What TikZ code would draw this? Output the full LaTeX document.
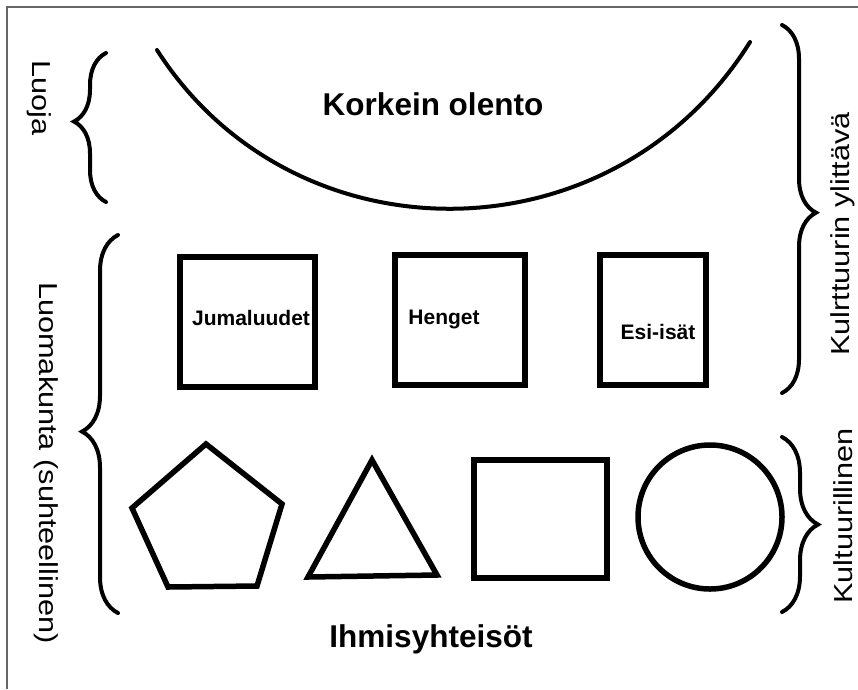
\documentclass[tikz,border=0pt]{standalone}
\usepackage{fontspec}
\setmainfont{Liberation Sans}
\newfontfamily\sidefont[FakeStretch=1.18]{Liberation Sans}
\usetikzlibrary{decorations.pathreplacing}

\begin{document}
\begin{tikzpicture}[x=1pt,y=-1pt,
    outline/.style={line width=5.5pt},
    curly/.style 2 args={line width=4pt,line cap=round,decorate,
        decoration={brace,amplitude=#1,aspect=#2}},
    title/.style={font=\fontsize{31.5}{36}\selectfont\bfseries,inner sep=0pt},
    boxlabel/.style={font=\fontsize{21}{24}\selectfont\bfseries,inner sep=0pt},
    side/.style={font=\sidefont\fontsize{26}{30}\selectfont,inner sep=0pt}]
    \useasboundingbox (0,0) rectangle (858,689);

    % Frame
    \draw[black!60,line width=1.5pt] (7,689) -- (7,7) -- (858,7);

    % Highest being (arc)
    \draw[line width=4pt,line cap=round] (157,50) .. controls (293,263) and (612,263) .. (750,42);
    \node[title] (god) at (433,104) {Korkein olento};

    % Upper row: boxes
    \draw[outline] (180,257) rectangle (315,387);
    \draw[outline] (395,255) rectangle (525,385);
    \draw[outline] (600,255) rectangle (706,385);
    \node[boxlabel] (deity) at (251,318) {Jumaluudet};
    \node[boxlabel] (spirit) at (444,319) {Henget};
    \node[boxlabel] (ancestor) at (658,332) {Esi-isät};

    % Lower row: communities
    \draw[outline] (206,444) -- (282,504) -- (257,586) -- (168,587) -- (132,508) -- cycle;
    \draw[outline] (372,460) -- (437,575) -- (308,577) -- cycle;
    \draw[outline] (474,460) rectangle (607,578);
    \draw[outline] (710,517) circle[radius=72];
    \node[title] (human) at (431,639) {Ihmisyhteisöt};

    % Left braces
    \draw[curly={32}{0.54}] (106,202) -- (106,53);
    \draw[curly={36}{0.48}] (118,613) -- (118,235);
    \node[side,rotate=-90] (creator) at (39,98) {Luoja};
    \node[side,rotate=-90] (creation) at (46,463) {Luomakunta (suhteellinen)};

    % Right braces
    \draw[curly={34}{0.51}] (782,25) -- (782,393);
    \draw[curly={36}{0.5}] (782,437) -- (782,612);
    \node[side,rotate=90] (beyond) at (843,234) {Kulrttuurin ylittävä};
    \node[side,rotate=90] (cultural) at (843,516) {Kultuurillinen};

\end{tikzpicture}
\end{document}
